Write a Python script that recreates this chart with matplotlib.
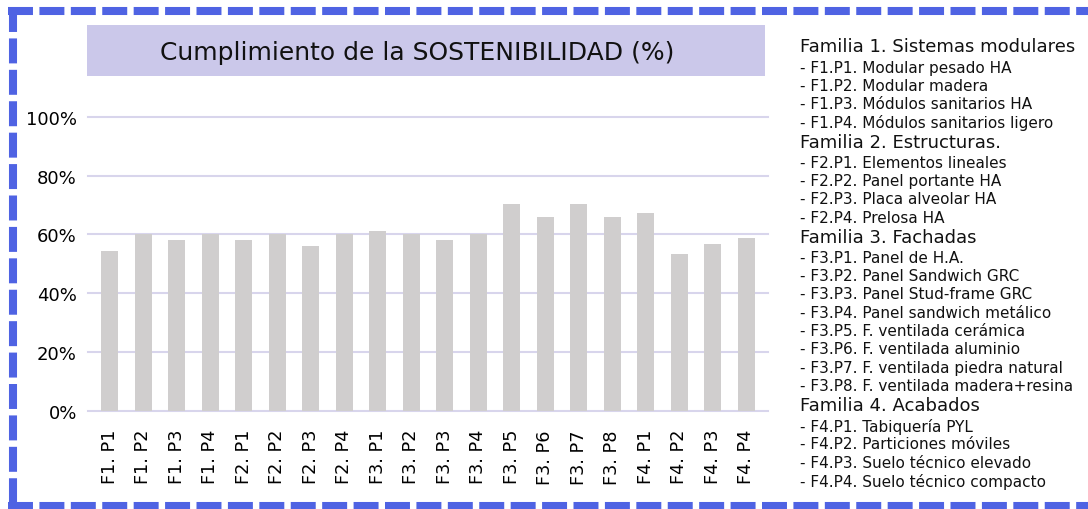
import matplotlib
matplotlib.use("Agg")
import matplotlib.pyplot as plt
from matplotlib.lines import Line2D
from matplotlib.patches import Rectangle
from matplotlib.ticker import PercentFormatter

categories = ["F1. P1", "F1. P2", "F1. P3", "F1. P4",
              "F2. P1", "F2. P2", "F2. P3", "F2. P4",
              "F3. P1", "F3. P2", "F3. P3", "F3. P4", "F3. P5", "F3. P6", "F3. P7", "F3. P8",
              "F4. P1", "F4. P2", "F4. P3", "F4. P4"]
values = [54.5, 60, 58, 60,
          58, 60, 56, 60,
          61.3, 60, 58, 60, 70.2, 65.8, 70.2, 65.8,
          67.4, 53.2, 56.8, 58.7]
yticks = [0, 20, 40, 60, 80, 100]
title = "Cumplimiento de la SOSTENIBILIDAD (%)"

legend_groups = [
    ("Familia 1. Sistemas modulares", [
        "- F1.P1. Modular pesado HA",
        "- F1.P2. Modular madera",
        "- F1.P3. Módulos sanitarios HA",
        "- F1.P4. Módulos sanitarios ligero"]),
    ("Familia 2. Estructuras.", [
        "- F2.P1. Elementos lineales",
        "- F2.P2. Panel portante HA",
        "- F2.P3. Placa alveolar HA",
        "- F2.P4. Prelosa HA"]),
    ("Familia 3. Fachadas", [
        "- F3.P1. Panel de H.A.",
        "- F3.P2. Panel Sandwich GRC",
        "- F3.P3. Panel Stud-frame GRC",
        "- F3.P4. Panel sandwich metálico",
        "- F3.P5. F. ventilada cerámica",
        "- F3.P6. F. ventilada aluminio",
        "- F3.P7. F. ventilada piedra natural",
        "- F3.P8. F. ventilada madera+resina"]),
    ("Familia 4. Acabados", [
        "- F4.P1. Tabiquería PYL",
        "- F4.P2. Particiones móviles",
        "- F4.P3. Suelo técnico elevado",
        "- F4.P4. Suelo técnico compacto"]),
]

W, H = 1088, 510
fig = plt.figure(figsize=(W / 100, H / 100), dpi=100)
fig.patch.set_facecolor("white")

def fx(px):
    return px / W

def fy(py):
    return 1 - py / H

# axes
ax = fig.add_axes([fx(88), fy(412), fx(768) - fx(88), fy(117.7) - fy(412)])
x = range(len(categories))
ax.bar(x, values, width=0.5, color="#D0CECE", zorder=2)
ax.set_xlim(-0.65, len(categories) - 0.35)
ax.set_ylim(0, 100)
ax.set_yticks(yticks)
ax.yaxis.set_major_formatter(PercentFormatter(decimals=0))
ax.set_xticks(list(x))
ax.set_xticklabels(categories, rotation=90, fontsize=12.7)
ax.tick_params(axis="y", labelsize=13, length=0, pad=8)
ax.tick_params(axis="x", length=0, pad=13)
ax.grid(axis="y", color="#D8D5EC", linewidth=1.5, zorder=1)
for gl in ax.get_ygridlines():
    gl.set_clip_on(False)
ax.set_axisbelow(True)
for s in ax.spines.values():
    s.set_visible(False)
ax.patch.set_alpha(0)

# title box
fig.patches.append(Rectangle((fx(87), fy(77)), fx(765) - fx(87), fy(26) - fy(77),
                             transform=fig.transFigure, facecolor="#CBC8EA",
                             edgecolor="none", zorder=0))
fig.text(fx(417.5), fy(53), title, ha="center", va="center", fontsize=18, color="#111111")

# legend text
ypos = 47.5
for gi, (header, items) in enumerate(legend_groups):
    if gi > 0:
        ypos += 19.5
    fig.text(fx(800), fy(ypos), header, ha="left", va="center", fontsize=13, color="#111111")
    ypos += 20.5
    for k, it in enumerate(items):
        if k > 0:
            ypos += 18.35
        fig.text(fx(800), fy(ypos), it, ha="left", va="center", fontsize=11, color="#111111")

# dashed border
blue = "#4F63E3"
dash = dict(color=blue, linewidth=5.8, linestyle=(0, (3.1, 0.8)), solid_capstyle="butt",
            transform=fig.transFigure)
fig.add_artist(Line2D([fx(8), fx(1088)], [fy(11.5), fy(11.5)], **dash))
fig.add_artist(Line2D([fx(12.5), fx(12.5)], [fy(7.5), fy(507)], **dash))
fig.add_artist(Line2D([fx(8), fx(1088)], [fy(507), fy(507)], **dash))

fig.savefig("out.png", dpi=100)
